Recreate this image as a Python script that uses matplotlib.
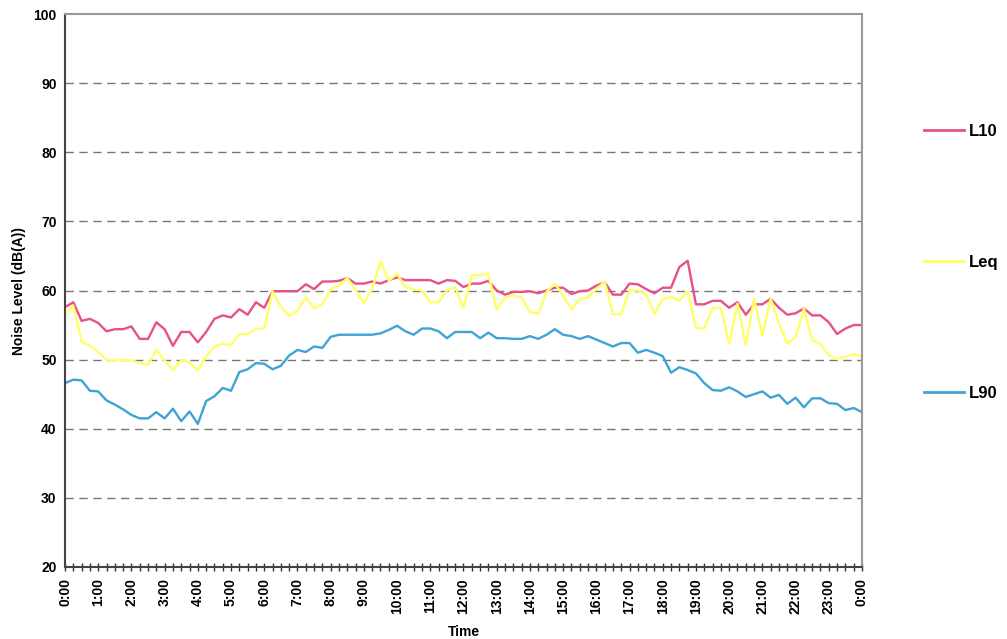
import matplotlib
matplotlib.use("Agg")
import matplotlib.pyplot as plt
from matplotlib.lines import Line2D

plt.rcParams['font.family'] = ['Liberation Sans', 'DejaVu Sans']
plt.rcParams['font.weight'] = 'bold'

# 15 minute readings, 0:00 to 24:00
l10 = [57.6, 58.3, 55.6, 55.9, 55.3, 54.1, 54.4, 54.4, 54.8, 53.0, 53.0, 55.4, 54.4, 52.0, 54.0, 54.0,
       52.5, 54.0, 55.9, 56.4, 56.1, 57.3, 56.5, 58.3, 57.5,
       59.9, 59.9, 59.9, 59.9, 60.9, 60.2, 61.3, 61.3, 61.4, 61.8, 61.0, 61.0, 61.3, 61.0, 61.5, 61.9,
       61.5, 61.5, 61.5, 61.5, 61.0, 61.5, 61.4,
       60.5, 61.0, 61.0, 61.4, 60.0, 59.4, 59.8, 59.8, 59.9, 59.6, 60.0, 60.4, 60.4, 59.5, 59.9, 60.0,
       60.7, 61.2, 59.4, 59.4, 61.0, 60.9, 60.2, 59.6,
       60.4, 60.4, 63.4, 64.3, 58.0, 58.0, 58.5, 58.5, 57.5, 58.3, 56.5, 58.0, 58.0, 58.8, 57.5, 56.5,
       56.7, 57.4, 56.4, 56.4, 55.4, 53.7, 54.5, 55.0, 55.0]

leq = [56.6, 57.8, 52.6, 52.0, 51.1, 50.0, 49.9, 49.9, 49.9, 49.5, 49.2, 51.4, 49.9, 48.5, 49.9, 49.6,
       48.5, 50.4, 51.9, 52.3, 52.1, 53.7, 53.7, 54.4, 54.5,
       59.9, 57.6, 56.3, 57.1, 59.0, 57.4, 58.0, 60.2, 60.7, 61.8, 60.0, 58.2, 60.2, 64.2, 61.4, 62.4,
       60.5, 60.2, 60.0, 58.3, 58.3, 60.0, 60.5,
       57.5, 62.2, 62.2, 62.4, 57.2, 59.0, 59.3, 59.0, 56.9, 56.6, 59.8, 61.0, 59.3, 57.2, 58.8, 59.0,
       60.2, 61.3, 56.6, 56.6, 60.0, 60.0, 59.5, 56.6,
       58.8, 59.1, 58.5, 59.9, 54.6, 54.5, 57.5, 57.5, 52.3, 58.1, 52.1, 58.8, 53.5, 58.8, 55.2, 52.3,
       53.3, 57.4, 52.8, 52.3, 50.6, 50.1, 50.4, 50.8, 50.5]

l90 = [46.6, 47.1, 47.0, 45.5, 45.4, 44.1, 43.5, 42.8, 42.0, 41.5, 41.5, 42.4, 41.5, 42.9, 41.1, 42.5,
       40.7, 44.0, 44.7, 45.9, 45.5, 48.2, 48.6, 49.5, 49.4,
       48.6, 49.1, 50.6, 51.4, 51.1, 51.9, 51.7, 53.3, 53.6, 53.6, 53.6, 53.6, 53.6, 53.8, 54.3, 54.9,
       54.1, 53.6, 54.5, 54.5, 54.1, 53.1, 54.0,
       54.0, 54.0, 53.1, 53.9, 53.1, 53.1, 53.0, 53.0, 53.4, 53.0, 53.6, 54.4, 53.6, 53.4, 53.0, 53.4,
       52.9, 52.4, 51.9, 52.4, 52.4, 51.0, 51.4, 51.0,
       50.5, 48.1, 48.9, 48.5, 48.0, 46.6, 45.6, 45.5, 46.0, 45.4, 44.6, 45.0, 45.4, 44.5, 44.9, 43.6,
       44.5, 43.1, 44.4, 44.4, 43.7, 43.6, 42.7, 43.0, 42.4]

hour_labels = [f"{h % 24}:00" for h in range(25)]

c10 = '#e8508a'
ceq = '#ffff66'
c90 = '#3fa3d6'

fig = plt.figure(figsize=(10.07, 6.39), dpi=100)
ax = fig.add_axes([65 / 1007, 1 - 567 / 639, (862 - 65) / 1007, (567 - 14) / 639])

x = list(range(len(l10)))
ax.plot(x, l10, color=c10, lw=1.7, label='L10')
ax.plot(x, leq, color=ceq, lw=1.7, label='Leq')
ax.plot(x, l90, color=c90, lw=1.7, label='L90')

ax.set_xlim(0, 96)
ax.set_ylim(20, 100)
ax.set_yticks(range(20, 101, 10))
ax.set_xticks(range(0, 97, 4))
ax.set_xticklabels(hour_labels, rotation=90, fontsize=10, fontweight='bold')
ax.set_xticks(range(0, 97), minor=True)
ax.tick_params(axis='x', which='both', direction='inout', length=6, width=1, color='#333333', pad=5)
ax.tick_params(axis='y', direction='inout', length=0, labelsize=10, pad=6)
for t in ax.get_yticklabels():
    t.set_fontweight('bold')

for yv in range(30, 100, 10):
    ax.axhline(yv, color='#777777', lw=1, ls=(0, (6, 4)), zorder=0)

ax.spines['left'].set_color('#444444')
ax.spines['bottom'].set_color('#444444')
ax.spines['left'].set_linewidth(1.5)
ax.spines['bottom'].set_linewidth(1.5)
ax.spines['top'].set_color('#999999')
ax.spines['right'].set_color('#999999')
ax.spines['top'].set_linewidth(1.5)
ax.spines['right'].set_linewidth(1.5)

ax.set_xlabel('Time', fontsize=10, fontweight='bold', labelpad=8)
ax.set_ylabel('Noise Level (dB(A))', fontsize=10, fontweight='bold', labelpad=5)

handles = [Line2D([], [], color=c, lw=2) for c in (c10, ceq, c90)]
fig.legend(handles, ['L10', 'Leq', 'L90'], loc='upper left', bbox_to_anchor=(909 / 1007, 1 - 109 / 639),
           frameon=False, labelspacing=6.95, handlelength=2.4, handletextpad=0.3,
           prop={'weight': 'bold', 'size': 12})

fig.savefig('out.png', dpi=100)
